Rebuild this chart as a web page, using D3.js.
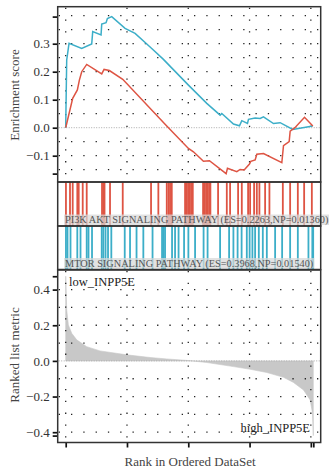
<!DOCTYPE html>
<html>
<head>
<meta charset="utf-8">
<script src="https://cdn.jsdelivr.net/npm/d3@7"></script>
<style>
  body { margin: 0; background: #fff; }
  svg { display: block; font-family: "Liberation Serif", "DejaVu Serif", serif; }
</style>
</head>
<body>
<div id="chart"></div>
<script>
// Data (ranks out of ~20200 genes)
var nGenes = 20200;
var rankTicks = [0, 5000, 10000, 15000, 20000, 20200];

// running enrichment score, PI3K AKT pathway (red)
var pi3kRanks = [0, 82, 571, 952, 1116, 1306, 1714, 2939, 3129, 3565, 4653, 8245, 10013, 10422,
  11238, 11728, 13089, 13197, 13959, 14231, 14558, 14993, 15102, 15456, 15592, 16136, 17632,
  17768, 18231, 18313, 18700, 19483, 20163];
var pi3kES = [0, 0.015, 0.105, 0.135, 0.17, 0.2, 0.226, 0.192, 0.208, 0.204, 0.173, 0.006, -0.074,
  -0.086, -0.12, -0.118, -0.164, -0.145, -0.157, -0.149, -0.151, -0.13, -0.12, -0.115, -0.095,
  -0.092, -0.125, -0.064, -0.05, -0.012, 0.0, 0.037, 0.006];

// running enrichment score, MTOR pathway (blue)
var mtorRanks = [0, 82, 272, 1306, 2122, 2204, 2884, 2939, 3292, 3401, 3755, 4843, 5660, 7020,
  7973, 10013, 11510, 12598, 12734, 13687, 14177, 14367, 14830, 14912, 15456, 15864, 16136,
  16952, 17496, 18530, 20150];
var mtorES = [0, 0.242, 0.301, 0.283, 0.299, 0.343, 0.331, 0.37, 0.375, 0.39, 0.3968, 0.355,
  0.337, 0.283, 0.244, 0.152, 0.087, 0.045, 0.051, 0.013, 0.007, 0.025, 0.015, 0.03, 0.035,
  0.033, 0.039, 0.015, 0.018, -0.006, 0.006];

// gene set hits
var pi3kHits = [20, 351, 571, 947, 1061, 1388, 1714, 2963, 3069, 3167, 3616, 4653, 6963, 7559,
  8245, 8392, 8514, 8653, 9739, 9861, 9984, 10106, 10228, 10367, 11208, 11330, 11453, 11575,
  11698, 11804, 12432, 13143, 13412, 14065, 14367, 14881, 15045, 15371, 15592, 15804, 16269,
  16620, 17714, 18310, 18938, 19453, 20081];
var mtorHits = [20, 147, 392, 947, 1208, 1714, 1861, 2147, 2939, 3069, 3249, 3453, 3722, 4816,
  5249, 5779, 6334, 7085, 7861, 7983, 8106, 8677, 8922, 9208, 9657, 10008, 10555, 11249, 11575,
  12596, 13331, 13682, 14024, 14351, 14775, 15004, 15232, 15453, 15755, 16081, 16408, 17085,
  17657, 18310, 18938, 19804, 20120, 20190];

// ranked list metric
var metricRanks = [0, 40, 82, 218, 490, 898, 1714, 2803, 4980, 6884, 8245, 10013, 11510, 13687,
  15047, 16408, 17768, 18584, 19401, 19945, 20135, 20200];
var metricValues = [0.475, 0.38, 0.286, 0.202, 0.155, 0.118, 0.08, 0.056, 0.034, 0.019, 0.011,
  0.002, -0.009, -0.032, -0.047, -0.065, -0.092, -0.121, -0.163, -0.219, -0.293, -0.419];

var esTicks = [-0.1, 0, 0.1, 0.2, 0.3];
var esExtremes = [-0.164, 0.3968];
var esGrid = [-0.15, -0.1, -0.05, 0, 0.05, 0.1, 0.15, 0.2, 0.25, 0.3, 0.35, 0.4];
var metricTicks = [-0.4, -0.2, 0, 0.2, 0.4];
var metricExtremes = [-0.419, 0.475];
var metricGrid = [-0.4, -0.3, -0.2, -0.1, 0, 0.1, 0.2, 0.3, 0.4];

var redCol = '#DE5443';
var blueCol = '#3CAEC8';

// Chart Size
var width = 329, height = 472;
var left = 57.7, right = 320.7;
var topY0 = 6.7, topY1 = 182;
var redY0 = 182, redY1 = 226;
var blueY0 = 226, blueY1 = 269.5;
var botY0 = 270, botY1 = 442.5;

var svg = d3.select('#chart').append('svg')
  .attr('width', width).attr('height', height);

var x = d3.scaleLinear().domain([0, nGenes]).range([65.7, 313.3]);
var yES = d3.scaleLinear().domain([-0.1, 0.3]).range([155.7, 43.7]);
var yM = d3.scaleLinear().domain([-0.4, 0.4]).range([432.2, 289.6]);

function dotGrid(g, y0, y1, yScale, rows) {
  g.selectAll('.vg').data(rankTicks.slice(0, 5)).enter().append('line')
    .attr('x1', function(d) { return x(d); }).attr('x2', function(d) { return x(d); })
    .attr('y1', y0 + 1).attr('y2', y1 - 1)
    .attr('stroke', '#222').attr('stroke-width', 1.3).attr('stroke-dasharray', '1.3,10.5');
  g.selectAll('.hg').data(rows.filter(function(d) { return d !== 0; })).enter().append('line')
    .attr('x1', left + 1).attr('x2', right - 1)
    .attr('y1', function(d) { return yScale(d); }).attr('y2', function(d) { return yScale(d); })
    .attr('stroke', '#222').attr('stroke-width', 1.3).attr('stroke-dasharray', '1.3,11');
  g.append('line')
    .attr('x1', left + 1).attr('x2', right - 1)
    .attr('y1', yScale(0)).attr('y2', yScale(0))
    .attr('stroke', '#aaa').attr('stroke-width', 1).attr('stroke-dasharray', '1,1.5');
}

// Top panel: running enrichment score
var topG = svg.append('g');
dotGrid(topG, topY0, topY1, yES, esGrid);

var esLine = d3.line().x(function(d) { return x(d[0]); }).y(function(d) { return yES(d[1]); });
topG.append('path').datum(d3.zip(mtorRanks, mtorES))
  .attr('d', esLine).attr('fill', 'none').attr('stroke', blueCol).attr('stroke-width', 1.5);
topG.append('path').datum(d3.zip(pi3kRanks, pi3kES))
  .attr('d', esLine).attr('fill', 'none').attr('stroke', redCol).attr('stroke-width', 1.5);

var esAxis = d3.axisLeft(yES).tickValues(esTicks).tickSize(5).tickFormat(d3.format('.1f'));
svg.append('g').attr('transform', 'translate(' + left + ',0)').call(esAxis);
svg.append('g').attr('transform', 'translate(' + left + ',0)')
  .call(d3.axisLeft(yES).tickValues(esExtremes).tickSize(5).tickFormat(''));

// Hit bands
function band(hits, y0, y1, col, label) {
  var g = svg.append('g');
  g.selectAll('rect').data(hits).enter().append('rect')
    .attr('x', function(d) { return x(d) - 0.9; })
    .attr('y', y0).attr('width', 1.8).attr('height', y1 - y0)
    .attr('fill', col);
  var t = g.append('text').attr('x', 65).attr('y', y1 - 3)
    .attr('font-size', '10.3px').attr('fill', '#555').text(label);
  var bb = t.node().getBBox();
  g.insert('rect', 'text')
    .attr('x', bb.x - 1).attr('y', y1 - 11.5).attr('width', bb.width + 2).attr('height', 10.5)
    .attr('fill', 'rgba(215,215,215,0.72)');
}
band(pi3kHits, redY0, redY1, redCol, 'PI3K AKT SIGNALING PATHWAY (ES=0.2263,NP=0.01360)');
band(mtorHits, blueY0, blueY1, blueCol, 'MTOR SIGNALING PATHWAY (ES=0.3968,NP=0.01540)');

// Bottom panel: ranked list metric
var botG = svg.append('g');
var area = d3.area().x(function(d) { return x(d[0]); })
  .y0(yM(0)).y1(function(d) { return yM(d[1]); });
botG.append('path').datum(d3.zip(metricRanks, metricValues))
  .attr('d', area).attr('fill', '#c8c8c8').attr('stroke', '#c8c8c8').attr('stroke-width', 0.6);
dotGrid(botG, botY0, botY1, yM, metricGrid);

svg.append('g').attr('transform', 'translate(' + left + ',0)')
  .call(d3.axisLeft(yM).tickValues(metricTicks).tickSize(5).tickFormat(d3.format('.1f')));
svg.append('g').attr('transform', 'translate(' + left + ',0)')
  .call(d3.axisLeft(yM).tickValues(metricExtremes).tickSize(5).tickFormat(''));
svg.append('g').attr('transform', 'translate(0,' + botY1 + ')')
  .call(d3.axisBottom(x).tickValues(rankTicks).tickSize(5).tickFormat(''));

botG.append('text').attr('x', 69).attr('y', 286).attr('font-size', '12.5px')
  .attr('fill', '#222').text('low_INPP5E');
botG.append('text').attr('x', 310).attr('y', 432).attr('text-anchor', 'end')
  .attr('font-size', '12.5px').attr('fill', '#222').text('high_INPP5E');

// Frames
[[topY0, topY1], [redY0, redY1], [blueY0, blueY1], [botY0, botY1]].forEach(function(p) {
  svg.append('rect').attr('x', left).attr('y', p[0])
    .attr('width', right - left).attr('height', p[1] - p[0])
    .attr('fill', 'none').attr('stroke', '#333').attr('stroke-width', 1.5);
});

// Axis styling
svg.selectAll('.domain').remove();
svg.selectAll('.tick line').attr('stroke', '#111').attr('stroke-width', 1.7);
svg.selectAll('.tick text').attr('font-size', '13px').attr('fill', '#333')
  .attr('font-family', '"Liberation Serif", serif');

// Axis titles
svg.append('text').attr('transform', 'translate(19,95) rotate(-90)')
  .attr('text-anchor', 'middle').attr('font-size', '13px').attr('fill', '#444')
  .text('Enrichment score');
svg.append('text').attr('transform', 'translate(19,355) rotate(-90)')
  .attr('text-anchor', 'middle').attr('font-size', '13px').attr('fill', '#444')
  .text('Ranked list metric');
svg.append('text').attr('x', 190).attr('y', 466)
  .attr('text-anchor', 'middle').attr('font-size', '13px').attr('fill', '#444')
  .text('Rank in Ordered DataSet');
</script>
</body>
</html>
